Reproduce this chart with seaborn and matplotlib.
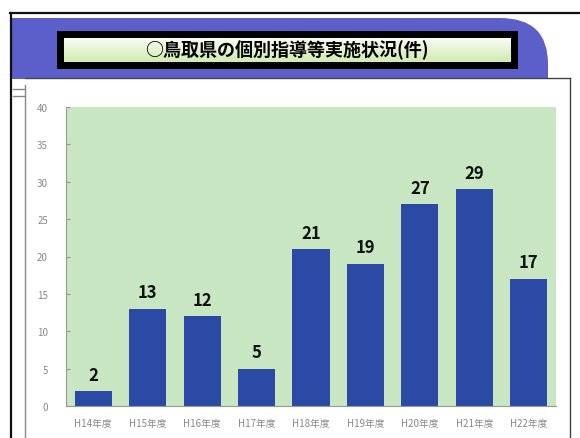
import numpy as np
import pandas as pd
import matplotlib
matplotlib.use("Agg")
import matplotlib.pyplot as plt
from matplotlib.patches import Rectangle, PathPatch
from matplotlib.path import Path
import seaborn as sns

title = "○鳥取県の個別指導等実施状況(件)"
categories = ["H14年度", "H15年度", "H16年度", "H17年度", "H18年度",
              "H19年度", "H20年度", "H21年度", "H22年度"]
values = [2, 13, 12, 5, 21, 19, 27, 29, 17]
yticks = [0, 5, 10, 15, 20, 25, 30, 35, 40]

plt.rcParams['font.family'] = ['Noto Sans CJK JP', 'DejaVu Sans']

W, H = 580, 439
fig = plt.figure(figsize=(W / 100, H / 100), dpi=100)
fig.patch.set_facecolor("white")

# background decoration axes in pixel coordinates
bg = fig.add_axes([0, 0, 1, 1], zorder=0)
bg.set_xlim(0, W)
bg.set_ylim(H, 0)
bg.axis("off")

# banner with rounded top-right corner
verts = [(12, 19), (500, 19), (548, 19), (548, 65), (548, 80), (12, 80), (12, 19)]
codes = [Path.MOVETO, Path.LINETO, Path.CURVE3, Path.CURVE3, Path.LINETO, Path.LINETO, Path.CLOSEPOLY]
bg.add_patch(PathPatch(Path(verts, codes), facecolor="#5c5ec9", edgecolor="none"))

# white panel
bg.add_patch(Rectangle((25, 79), 545, 380, facecolor="white", edgecolor="none"))
bg.plot([25, 570], [79, 79], color="#444444", lw=1.0)
bg.plot([570, 570], [79, 439], color="#444444", lw=1.0)
bg.plot([25, 25], [86, 439], color="#888888", lw=1.0)
bg.plot([13, 25], [90, 90], color="#888888", lw=1.0)
bg.plot([13, 25], [97, 97], color="#888888", lw=1.0)
# outer frame lines
bg.plot([10, 580], [14, 14], color="#111111", lw=1.6)
bg.plot([11, 11], [14, 439], color="#111111", lw=1.6)

# title box with gradient
grad = np.linspace(0, 1, 64).reshape(-1, 1)
top = np.array([1.0, 1.0, 1.0])
bot = np.array([0.80, 0.91, 0.66])
img = top[None, None, :] * (1 - grad[:, :, None]) + bot[None, None, :] * grad[:, :, None]
bg.imshow(img, extent=(60, 514, 66, 35), aspect="auto", zorder=2)
bg.add_patch(Rectangle((60, 35), 454, 31, facecolor="none", edgecolor="black", lw=5, zorder=3))
bg.text(287, 50.5, title, ha="center", va="center", fontsize=13,
        fontweight="bold", color="black", zorder=4)
bg.set_xlim(0, W)
bg.set_ylim(H, 0)

# chart axes
left, right = 66, 556
ytop, ybot = 108, 407
ax = fig.add_axes([left / W, 1 - ybot / H, (right - left) / W, (ybot - ytop) / H], zorder=1)
df = pd.DataFrame({"year": categories, "count": values})
sns.barplot(data=df, x="year", y="count", color="#2b4aa6", width=0.68,
            saturation=1, ax=ax, edgecolor="none")
ax.set_facecolor("#c7e6c1")
ax.set_ylim(0, 40)
ax.set_yticks(yticks)
ax.set_yticklabels([str(t) for t in yticks], fontsize=7, color="#888888")
ax.set_xticks(range(len(categories)))
ax.set_xticklabels(categories, fontsize=7, color="#888888")
ax.tick_params(axis="y", length=3, color="#999999", direction="in", pad=13)
ax.tick_params(axis="x", length=0, pad=9)
ax.set_xlabel("")
ax.set_ylabel("")
for s in ["top", "right"]:
    ax.spines[s].set_visible(False)
for s in ["left", "bottom"]:
    ax.spines[s].set_color("#999999")
    ax.spines[s].set_linewidth(0.8)
for i, v in enumerate(values):
    ax.text(i, v + 1.0, str(v), ha="center", va="bottom", fontsize=12,
            fontweight="bold", color="#111111")

fig.savefig("out.png", dpi=100)
